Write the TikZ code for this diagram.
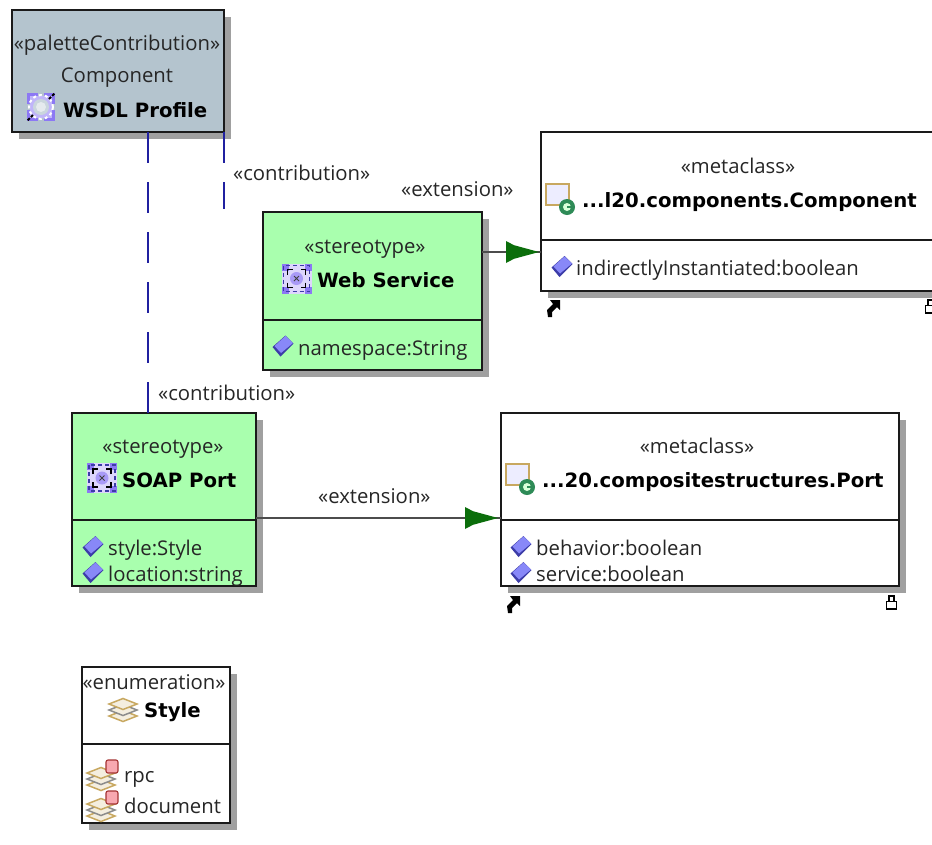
\documentclass[tikz,border=0pt]{standalone}
\usepackage{fontspec}
\setmainfont{Open Sans}
\newfontfamily\boldf{DejaVu Sans}
\usetikzlibrary{arrows.meta}
\definecolor{slate}{HTML}{B4C4CE}
\definecolor{mint}{HTML}{A9FFAE}
\definecolor{shadowc}{HTML}{A0A0A0}
\definecolor{edgec}{HTML}{1A1A1A}
\definecolor{depblue}{HTML}{2020A0}
\definecolor{arrowg}{HTML}{0B6E0B}
\definecolor{attr}{HTML}{8888F8}
\definecolor{attrd}{HTML}{3C3CA8}
\definecolor{goldc}{HTML}{C8A860}
\definecolor{pinkc}{HTML}{F8A8B0}
\definecolor{purp}{HTML}{8C78F4}
\definecolor{greenc}{HTML}{2E8B57}
\tikzset{
  x=1pt,y=-1pt,
  umlbox/.style={draw=edgec,line width=2.4pt,rectangle,inner sep=0pt,outer sep=0pt,anchor=north west},
  lbl/.style={inner sep=0pt,font=\fontsize{20.3}{22}\selectfont,text=black!85,anchor=base},
  lblw/.style={inner sep=0pt,font=\fontsize{20.3}{22}\selectfont,text=black!85,anchor=base west},
  ttl/.style={inner sep=0pt,font=\boldf\bfseries\fontsize{19.7}{22}\selectfont,anchor=base},
  ttlw/.style={inner sep=0pt,font=\boldf\bfseries\fontsize{19.7}{22}\selectfont,anchor=base west},
  dep/.style={draw=depblue,line width=2pt,dash pattern=on 31pt off 19pt},
  ext/.style={draw=black!70,line width=1.5pt},
  divl/.style={draw=edgec,line width=2.2pt},
}
\newcommand{\umlbox}[6]{% name, x0,y0,x1,y1, fill
  \fill[shadowc] (#2+7,#3+7) rectangle (#4+7,#5+7);
  \node[umlbox,fill=#6,minimum width=#4pt-#2pt,minimum height=#5pt-#3pt] (#1) at (#2,#3) {};
}
\newcommand{\exthead}[1]{% #1 = coordinate of the tip
  \fill[arrowg] ([xshift=-33pt,yshift=11pt]#1) -- ([xshift=-25pt,yshift=6.8pt]#1) -- (#1)
    -- ([xshift=-25pt,yshift=-6.8pt]#1) -- ([xshift=-33pt,yshift=-11pt]#1) -- cycle;
}
\newcommand{\attricon}[2]{% cx cy
  \fill[attrd] (#1-10.5,#2+0.5) -- (#1+2.5,#2-11) -- (#1+10.5,#2-3) -- (#1-2.5,#2+10) -- cycle;
  \fill[attr] (#1-8.5,#2-0.5) -- (#1+2.5,#2-10.5) -- (#1+10,#2-3.5) -- (#1-2,#2+6.5) -- cycle;
}
\newcommand{\classicon}[2]{% top-left x y
  \fill[blue!7] (#1,#2) rectangle (#1+23,#2+21);
  \draw[goldc,line width=1.6pt] (#1,#2) rectangle (#1+23,#2+21);
  \fill[greenc] (#1+21,#2+23) circle (8);
  \fill[white!85!green] (#1+21,#2+23) circle (4);
  \fill[greenc] (#1+21,#2+22.2) rectangle (#1+26,#2+23.8);
}
\newcommand{\stereoicon}[2]{% centre
  \fill[purp!30] (#1-15,#2-15) rectangle (#1+15,#2+15);
  \foreach \sx in {-1,1}\foreach \sy in {-1,1}{
    \fill[purp] (#1+\sx*15,#2+\sy*15) rectangle (#1+\sx*8,#2+\sy*8);}
  \draw[attrd,line width=1.3pt,dash pattern=on 4pt off 3pt] (#1-13,#2-13) rectangle (#1+13,#2+13);
  \foreach \sx in {-1,1}\foreach \sy in {-1,1}{
    \draw[black,line width=1.5pt] (#1+\sx*9,#2+\sy*4) -- (#1+\sx*9,#2+\sy*9) -- (#1+\sx*4,#2+\sy*9);}
  \fill[purp!75] (#1,#2) circle (6.5);
  \draw[black!75,line width=1pt] (#1-2.5,#2-2.5) -- (#1+2.5,#2+2.5) (#1-2.5,#2+2.5) -- (#1+2.5,#2-2.5);
}
\newcommand{\profileicon}[2]{% centre
  \foreach \sx in {-1,1}\foreach \sy in {-1,1}{
    \fill[purp] (#1+\sx*14,#2+\sy*14) rectangle (#1+\sx*3,#2+\sy*3);}
  \fill[purp!55] (#1-11,#2-11) rectangle (#1+11,#2+11);
  \draw[white,line width=2pt,dash pattern=on 3pt off 3pt] (#1,#2) circle (12);
  \fill[slate!70!white] (#1,#2) circle (8);
  \fill[slate!35!white] (#1,#2) circle (5);
  \draw[black,line width=2pt,dash pattern=on 3pt off 1.5pt] (#1+8,#2-8) -- (#1+14,#2-14) (#1-8,#2+8) -- (#1-14,#2+14);
}
\newcommand{\layer}[3]{% cx cy colour
  \fill[goldc!20] (#1-14,#2) -- (#1,#2-5.5) -- (#1+14,#2) -- (#1,#2+5.5) -- cycle;
  \draw[#3,line width=1.5pt] (#1-14,#2) -- (#1,#2-5.5) -- (#1+14,#2) -- (#1,#2+5.5) -- cycle;
}
\newcommand{\stackicon}[2]{%
  \layer{#1}{#2+6}{goldc}\layer{#1}{#2}{black!45}\layer{#1}{#2-6}{goldc}
}
\newcommand{\literalicon}[2]{%
  \stackicon{#1}{#2}
  \fill[pinkc] (#1+5,#2-19) rectangle (#1+17,#2-6);
  \draw[red!55!black!80,line width=1.1pt,rounded corners=2pt] (#1+5,#2-19) rectangle (#1+17,#2-6);
}
\newcommand{\linkicon}[2]{%
  \fill[black] (#1+2,#2-1) -- (#1+12,#2-1) -- (#1+12,#2+9) -- (#1+9,#2+6) -- (#1+4,#2+11) -- (#1+4,#2+16) -- (#1,#2+16) -- (#1-1,#2+9) -- (#1+5,#2+3) -- cycle;
}
\newcommand{\lockicon}[2]{%
  \draw[black,line width=1.5pt] (#1+3,#2+6) -- (#1+3,#2+1) -- (#1+8,#2+1) -- (#1+8,#2+6);
  \draw[black,line width=1.8pt] (#1+0.5,#2+6.5) rectangle (#1+10.5,#2+14);
}
\begin{document}
\begin{tikzpicture}
\useasboundingbox (0,0) rectangle (932,844);
\clip (0,0) rectangle (932,844);
\fill[white] (0,0) rectangle (932,844);

% boxes
\umlbox{wsdl}{12}{10}{224}{132}{slate}
\umlbox{web}{263}{212}{482}{370}{mint}
\umlbox{cmp}{541}{132}{960}{291}{white}
\umlbox{soap}{72}{413}{256}{586}{mint}
\umlbox{port}{501}{413}{899}{586}{white}
\umlbox{styl}{82}{667}{230}{823}{white}

% dividers
\draw[divl] ([yshift=-108pt]web.north west) -- ([yshift=-108pt]web.north east);
\draw[divl] ([yshift=-108pt]cmp.north west) -- ([yshift=-108pt]cmp.north east);
\draw[divl] ([yshift=-107pt]soap.north west) -- ([yshift=-107pt]soap.north east);
\draw[divl] ([yshift=-107pt]port.north west) -- ([yshift=-107pt]port.north east);
\draw[divl] ([yshift=-77pt]styl.north west) -- ([yshift=-77pt]styl.north east);

% connectors
\coordinate (free) at (224,209);
\coordinate (tipa) at ([yshift=-120pt,xshift=-2pt]cmp.north west);
\coordinate (tipb) at ([yshift=-105pt,xshift=-3pt]port.north west);
\draw[dep] ([xshift=136pt]wsdl.south west) -- ([xshift=76pt]soap.north west);
\draw[dep] (wsdl.south east) -- (free);
\draw[ext] ([yshift=-40pt]web.north east) -- ([yshift=-120pt]cmp.north west);
\draw[ext] ([yshift=-105pt]soap.north east) -- ([yshift=-105pt]port.north west);
\exthead{tipa}
\exthead{tipb}

% WSDL
\node[lbl] (t1) at (117,50) {«paletteContribution»};
\node[lbl] (t2) at (117,82) {Component};
\profileicon{41}{107}
\node[ttlw] (t3) at (63,117) {WSDL Profile};

% labels
\node[lblw] (c1) at (233,180) {«contribution»};
\node[lblw] (c2) at (158,400) {«contribution»};
\node[lblw] (e1) at (401,196) {«extension»};
\node[lblw] (e2) at (318,503) {«extension»};

% Web Service
\node[lbl] (t4) at (365,253) {«stereotype»};
\stereoicon{296.5}{278.5}
\node[ttlw] (t5) at (317,287) {Web Service};
\attricon{283}{346.5}
\node[lblw] (t6) at (298,355) {namespace:String};

% Component
\node[lbl] (t7) at (738,173) {«metaclass»};
\classicon{546}{184}
\node[ttlw] (t8) at (582,207) {...l20.components.Component};
\attricon{562}{267}
\node[lblw] (t9) at (576,275) {indirectlyInstantiated:boolean};
\linkicon{548}{301}
\lockicon{925}{299}

% SOAP
\node[lbl] (t10) at (163,453) {«stereotype»};
\stereoicon{102}{478}
\node[ttlw] (t11) at (122,487) {SOAP Port};
\attricon{93}{547}
\node[lblw] (t12) at (108,555) {style:Style};
\attricon{93}{573}
\node[lblw] (t13) at (108,581) {location:string};

% Port
\node[lbl] (t14) at (697,453) {«metaclass»};
\classicon{506}{464}
\node[ttlw] (t15) at (542,487) {...20.compositestructures.Port};
\attricon{521}{547}
\node[lblw] (t16) at (536,555) {behavior:boolean};
\attricon{521}{573}
\node[lblw] (t17) at (536,581) {service:boolean};
\linkicon{508}{597}
\lockicon{886}{595}

% Style
\node[lbl] (t18) at (154,689) {«enumeration»};
\stackicon{123}{710}
\node[ttlw] (t19) at (144,717) {Style};
\literalicon{101}{779}
\node[lblw] (t20) at (124,782) {rpc};
\literalicon{101}{810}
\node[lblw] (t21) at (124,813) {document};
\end{tikzpicture}
\end{document}
